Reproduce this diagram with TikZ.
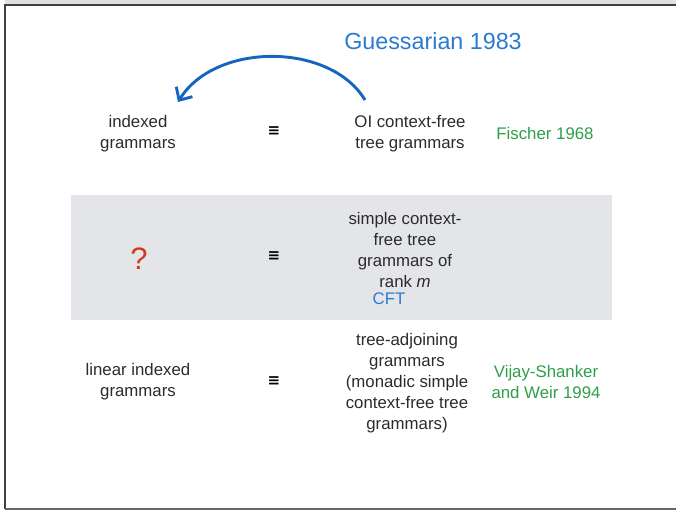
\documentclass[tikz,border=0pt]{standalone}
\usepackage{fontspec}
\setmainfont{Liberation Sans}
\newfontfamily\symfont{DejaVu Sans}
\usetikzlibrary{arrows.meta}
\definecolor{bandgray}{HTML}{E4E5E8}
\definecolor{refblue}{HTML}{2A7BD0}
\definecolor{arrowblue}{HTML}{1565C0}
\definecolor{refgreen}{HTML}{2E9E48}
\definecolor{refred}{HTML}{D03A1E}
\definecolor{txtgray}{HTML}{2B2B2B}
\tikzset{
  lbl/.style={align=center, text=txtgray, font=\fontsize{16.8}{21}\selectfont, inner sep=0pt},
  cite/.style={lbl, text=refgreen},
  eqv/.style={text=black, font=\symfont\bfseries\fontsize{15}{15}\selectfont, inner sep=0pt},
  frameline/.style={draw=black!75, line width=1.6pt},
}
\begin{document}
\begin{tikzpicture}[x=1pt,y=-1pt]
\useasboundingbox (0,0) rectangle (676,510);
\fill[black!12] (5,0) rectangle (676,4.2);
\fill[bandgray] (71,195) rectangle (612,320);
\draw[frameline] (676,5) -- (5,5) -- (5,509);
\draw[draw=black!60, line width=1.4pt] (5,509) -- (676,509);

\node[text=refblue, font=\fontsize{23.3}{23}\selectfont, inner sep=0pt] (guess) at (433,41) {Guessarian 1983};

\node[lbl] (idx) at (138,134) {indexed\\grammars};
\node[eqv] (eq1) at (274,131) {≡};
\node[lbl] (oi) at (410,134) {OI context-free\\tree grammars};
\node[cite] (fis) at (545,133) {Fischer 1968};

\node[text=refred, font=\fontsize{31}{31}\selectfont, inner sep=0pt] (q) at (139,259) {?};
\node[eqv] (eq2) at (274,256) {≡};
\node[lbl] (scf) at (405,249.5) {simple context-\\free tree\\grammars of\\rank \textit{m}};
\node[lbl, text=refblue] (cft) at (389,299) {CFT};

\node[lbl] (lig) at (138,382) {linear indexed\\grammars};
\node[eqv] (eq3) at (274,381) {≡};
\node[lbl] (tag) at (407,383) {tree-adjoining\\grammars\\(monadic simple\\context-free tree\\grammars)};
\node[cite] (vsw) at (546,382) {Vijay-Shanker\\and Weir 1994};

\coordinate (astart) at (365,100);
\coordinate (aend) at (178,102);
\draw[arrowblue, line width=2.9pt, -{Straight Barb[length=10pt,width=19pt]}] (astart) .. controls (330,42) and (215,42) .. (aend);
\end{tikzpicture}
\end{document}
